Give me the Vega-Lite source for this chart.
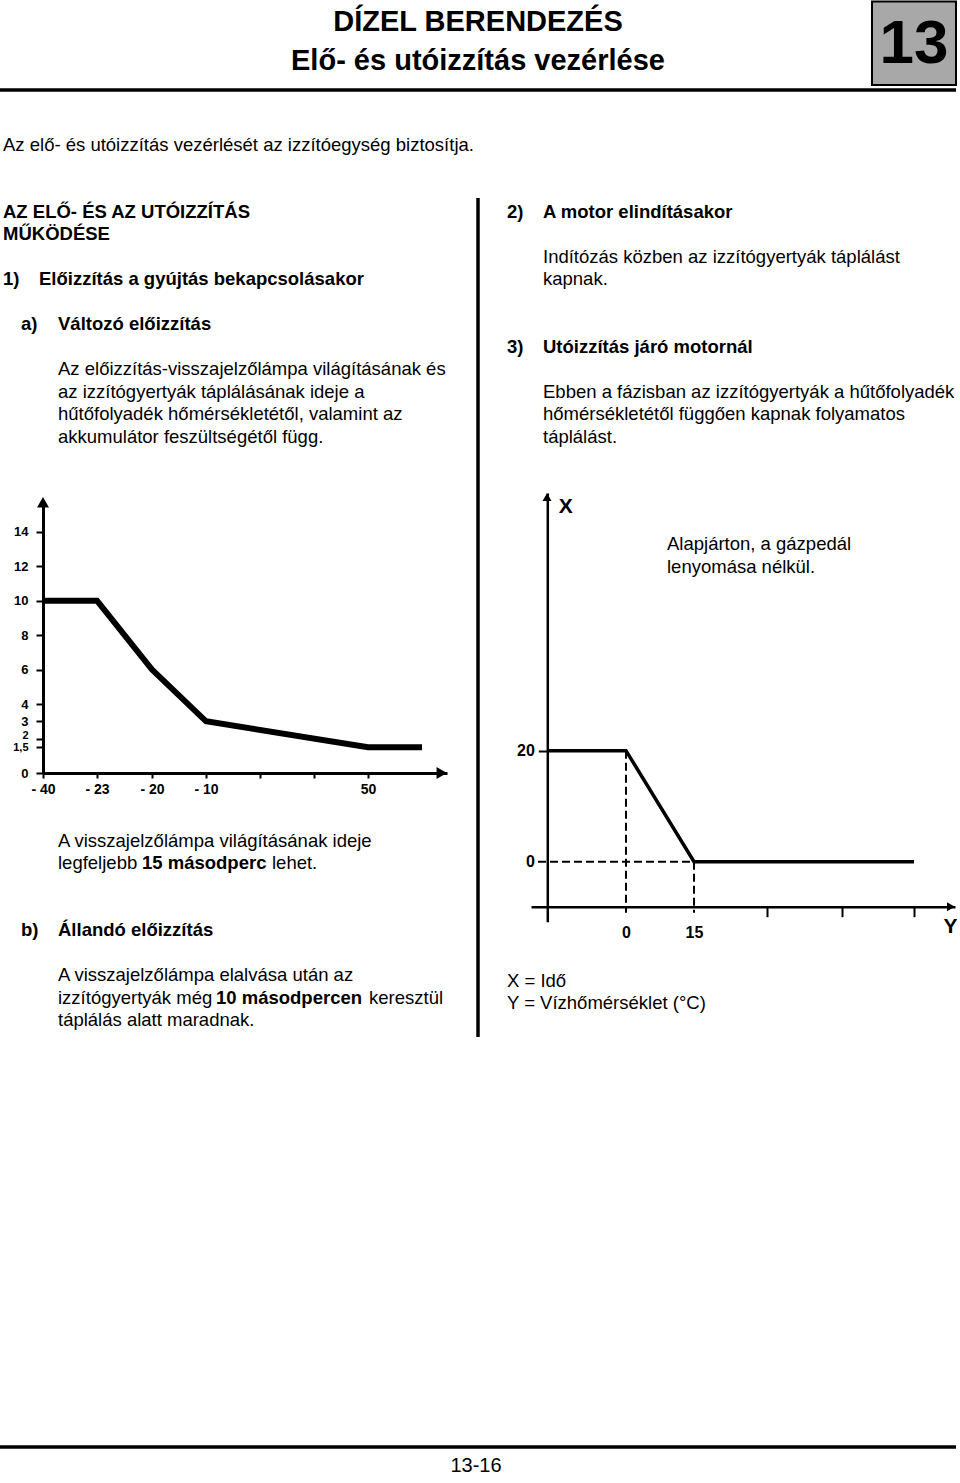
{
  "$schema": "https://vega.github.io/schema/vega-lite/v6.json",
  "width": 960,
  "height": 1483,
  "padding": 0,
  "autosize": {"type": "none"},
  "background": "white",
  "config": {
    "view": {"stroke": null},
    "font": "Liberation Sans",
    "axis": {"grid": false, "domainColor": "black", "tickColor": "black", "labelColor": "black", "titleColor": "black", "labelFont": "Liberation Sans", "titleFont": "Liberation Sans"}
  },
  "datasets": {
    "txt": [
      {"t": "DÍZEL BERENDEZÉS", "c": 9, "r": -8.46, "role": "title"},
      {"t": "Elő- és utóizzítás vezérlése", "c": 9, "r": -6.73, "role": "title"},
      {"t": "13", "c": 16, "r": -7.48, "role": "chapter"},
      {"t": "Az elő- és utóizzítás vezérlését az izzítóegység biztosítja.", "c": 1, "r": -3, "role": "body"},
      {"t": "AZ ELŐ- ÉS AZ UTÓIZZÍTÁS", "c": 1, "r": 0, "role": "heading"},
      {"t": "MŰKÖDÉSE", "c": 1, "r": 1, "role": "heading"},
      {"t": "1)", "c": 1, "r": 3, "role": "heading"},
      {"t": "Előizzítás a gyújtás bekapcsolásakor", "c": 3, "r": 3, "role": "heading"},
      {"t": "a)", "c": 2, "r": 5, "role": "heading"},
      {"t": "Változó előizzítás", "c": 4, "r": 5, "role": "heading"},
      {"t": "Az előizzítás-visszajelzőlámpa világításának és", "c": 4, "r": 7, "role": "body"},
      {"t": "az izzítógyertyák táplálásának ideje a", "c": 4, "r": 8, "role": "body"},
      {"t": "hűtőfolyadék hőmérsékletétől, valamint az", "c": 4, "r": 9, "role": "body"},
      {"t": "akkumulátor feszültségétől függ.", "c": 4, "r": 10, "role": "body"},
      {"t": "A visszajelzőlámpa világításának ideje", "c": 4, "r": 28, "role": "body"},
      {"t": "legfeljebb", "c": 4, "r": 29, "role": "body"},
      {"t": "15 másodperc", "c": 5, "r": 29, "role": "heading"},
      {"t": "lehet.", "c": 7, "r": 29, "role": "body"},
      {"t": "b)", "c": 2, "r": 32, "role": "heading"},
      {"t": "Állandó előizzítás", "c": 4, "r": 32, "role": "heading"},
      {"t": "A visszajelzőlámpa elalvása után az", "c": 4, "r": 34, "role": "body"},
      {"t": "izzítógyertyák még", "c": 4, "r": 35, "role": "body"},
      {"t": "10 másodpercen", "c": 6, "r": 35, "role": "heading"},
      {"t": "keresztül", "c": 8, "r": 35, "role": "body"},
      {"t": "táplálás alatt maradnak.", "c": 4, "r": 36, "role": "body"},
      {"t": "2)", "c": 12, "r": 0, "role": "heading"},
      {"t": "A motor elindításakor", "c": 13, "r": 0, "role": "heading"},
      {"t": "Indítózás közben az izzítógyertyák táplálást", "c": 13, "r": 2, "role": "body"},
      {"t": "kapnak.", "c": 13, "r": 3, "role": "body"},
      {"t": "3)", "c": 12, "r": 6, "role": "heading"},
      {"t": "Utóizzítás járó motornál", "c": 13, "r": 6, "role": "heading"},
      {"t": "Ebben a fázisban az izzítógyertyák a hűtőfolyadék", "c": 13, "r": 8, "role": "body"},
      {"t": "hőmérsékletétől függően kapnak folyamatos", "c": 13, "r": 9, "role": "body"},
      {"t": "táplálást.", "c": 13, "r": 10, "role": "body"},
      {"t": "Alapjárton, a gázpedál", "c": 14, "r": 14.79, "role": "body"},
      {"t": "lenyomása nélkül.", "c": 14, "r": 15.81, "role": "body"},
      {"t": "X = Idő", "c": 12, "r": 34.25, "role": "body"},
      {"t": "Y = Vízhőmérséklet (°C)", "c": 12, "r": 35.23, "role": "body"},
      {"t": "13-16", "c": 10, "r": 55.86, "role": "page"}
    ],
    "deco": [
      {"c1": 0, "c2": 17, "r1": -5.43, "r2": -5.43},
      {"c1": 0, "c2": 17, "r1": 55.01, "r2": 55.01},
      {"c1": 11, "c2": 11, "r1": -0.62, "r2": 36.75}
    ],
    "box": [{"c1": 15, "c2": 17, "r1": -9.38, "r2": -5.66}],
    "glowA": [
      {"temp": -40, "sec": 10},
      {"temp": -23, "sec": 10},
      {"temp": -20, "sec": 6},
      {"temp": -10, "sec": 3},
      {"temp": 50, "sec": 1.5},
      {"temp": 70, "sec": 1.5}
    ],
    "arrowAy": [{"temp": -40, "sec": 15.71}],
    "arrowAx": [{"temp": 77.9, "sec": 0}],
    "glowB": [
      {"temp": -17, "time": 20},
      {"temp": 0, "time": 20},
      {"temp": 15, "time": 0},
      {"temp": 60, "time": 0}
    ],
    "guideB": [
      {"a": 0, "b": 0, "lo": 20, "hi": -9.2},
      {"a": 15, "b": 15, "lo": 0, "hi": -9.2},
      {"a": -21.5, "b": 15, "lo": 0, "hi": 0}
    ],
    "arrowBy": [{"temp": -17, "time": 65.67}],
    "arrowBx": [{"temp": 68.1, "time": -8.1}]
  },
  "layer": [
    {
      "layer": [
        {
          "data": {"name": "deco"},
          "mark": {"type": "rule", "color": "black", "strokeWidth": 3.5},
          "encoding": {
            "x": {"field": "c1", "type": "quantitative", "scale": {"domain": [0,1,2,3,4,5,6,7,8,9,10,11,12,13,14,15,16,17], "range": [0,3,21,39,58,142,216,272,369,478,476,478,507,543,667,872,914,956], "nice": false, "zero": false}, "axis": null},
            "x2": {"field": "c2"},
            "y": {"field": "r1", "type": "quantitative", "scale": {"domain": [0, 56], "range": [212, 1469.2], "nice": false, "zero": false}, "axis": null},
            "y2": {"field": "r2"}
          }
        },
        {
          "data": {"name": "box"},
          "mark": {"type": "rect", "fill": "#a8a8a8", "stroke": "black", "strokeWidth": 2},
          "encoding": {
            "x": {"field": "c1", "type": "quantitative", "axis": null},
            "x2": {"field": "c2"},
            "y": {"field": "r1", "type": "quantitative", "axis": null},
            "y2": {"field": "r2"}
          }
        },
        {
          "data": {"name": "txt"},
          "transform": [{"filter": "datum.role == 'body'"}],
          "mark": {"type": "text", "align": "left", "baseline": "middle", "fontSize": 18.5, "color": "black"},
          "encoding": {
            "x": {"field": "c", "type": "quantitative", "axis": null},
            "y": {"field": "r", "type": "quantitative", "axis": null},
            "text": {"field": "t"}
          }
        },
        {
          "data": {"name": "txt"},
          "transform": [{"filter": "datum.role == 'heading'"}],
          "mark": {"type": "text", "align": "left", "baseline": "middle", "fontSize": 18.5, "fontWeight": "bold", "color": "black"},
          "encoding": {
            "x": {"field": "c", "type": "quantitative", "axis": null},
            "y": {"field": "r", "type": "quantitative", "axis": null},
            "text": {"field": "t"}
          }
        },
        {
          "data": {"name": "txt"},
          "transform": [{"filter": "datum.role == 'title'"}],
          "mark": {"type": "text", "align": "center", "baseline": "middle", "fontSize": 29, "fontWeight": "bold", "color": "black"},
          "encoding": {
            "x": {"field": "c", "type": "quantitative", "axis": null},
            "y": {"field": "r", "type": "quantitative", "axis": null},
            "text": {"field": "t"}
          }
        },
        {
          "data": {"name": "txt"},
          "transform": [{"filter": "datum.role == 'chapter'"}],
          "mark": {"type": "text", "align": "center", "baseline": "middle", "fontSize": 62, "fontWeight": "bold", "color": "black"},
          "encoding": {
            "x": {"field": "c", "type": "quantitative", "axis": null},
            "y": {"field": "r", "type": "quantitative", "axis": null},
            "text": {"field": "t"}
          }
        },
        {
          "data": {"name": "txt"},
          "transform": [{"filter": "datum.role == 'page'"}],
          "mark": {"type": "text", "align": "center", "baseline": "middle", "fontSize": 20, "color": "black"},
          "encoding": {
            "x": {"field": "c", "type": "quantitative", "axis": null},
            "y": {"field": "r", "type": "quantitative", "axis": null},
            "text": {"field": "t"}
          }
        }
      ]
    },
    {
      "layer": [
        {
          "data": {"name": "glowA"},
          "mark": {"type": "line", "color": "black", "strokeWidth": 6, "strokeJoin": "miter", "strokeCap": "butt"},
          "encoding": {
            "x": {
              "field": "temp", "type": "quantitative",
              "scale": {"domain": [-40,-23,-20,-10,10,30,50,70,80], "range": [43,97,152,206,260,314,368,422,447], "nice": false, "zero": false},
              "axis": {"orient": "bottom", "offset": -710, "values": [-40,-23,-20,-10,10,30,50], "format": "d", "labelExpr": "datum.value < 0 ? '- ' + (-datum.value) : (datum.value == 50 ? '50' : '')", "tickSize": 5, "tickWidth": 2, "domainWidth": 3, "labelFontSize": 14, "labelFontWeight": "bold", "labelPadding": 4, "labelFlush": false, "labelOverlap": false, "title": null}
            },
            "y": {
              "field": "sec", "type": "quantitative",
              "scale": {"domain": [0, 15.84], "range": [773, 500], "nice": false, "zero": false},
              "axis": {"orient": "left", "offset": -43, "values": [0,1.5,2,3,4,6,8,10,12,14], "format": ".1~f", "labelExpr": "replace(datum.label, '.', ',')", "tickSize": 7, "tickWidth": 2, "domainWidth": 3, "labelFontSize": {"condition": {"test": "datum.value == 2 || datum.value == 1.5", "value": 11}, "value": 13}, "labelOffset": {"condition": {"test": "datum.value == 2", "value": -3}, "value": 0}, "labelFontWeight": "bold", "labelPadding": 8, "labelFlush": false, "labelOverlap": false, "title": null}
            }
          }
        },
        {
          "data": {"name": "arrowAy"},
          "mark": {"type": "point", "shape": "triangle-up", "filled": true, "color": "black", "size": 144, "opacity": 1},
          "encoding": {
            "x": {"field": "temp", "type": "quantitative"},
            "y": {"field": "sec", "type": "quantitative"}
          }
        },
        {
          "data": {"name": "arrowAx"},
          "mark": {"type": "point", "shape": "triangle-right", "filled": true, "color": "black", "size": 144, "opacity": 1},
          "encoding": {
            "x": {"field": "temp", "type": "quantitative"},
            "y": {"field": "sec", "type": "quantitative"}
          }
        }
      ]
    },
    {
      "layer": [
        {
          "data": {"name": "guideB"},
          "mark": {"type": "rule", "color": "black", "strokeWidth": 2, "strokeDash": [8, 4]},
          "encoding": {
            "x": {
              "field": "a", "type": "quantitative",
              "scale": {"domain": [-25,-17,0,15,30,45,60,69], "range": [531,547,626,694,767,842,914,955], "nice": false, "zero": false},
              "axis": {"orient": "bottom", "offset": -576.3, "values": [0,15,30,45,60], "format": "d", "labelExpr": "datum.value <= 15 ? datum.label : ''", "tickSize": 10, "tickWidth": 2, "tickOpacity": {"condition": {"test": "datum.value <= 15", "value": 0}, "value": 1}, "domainWidth": 2.5, "labelFontSize": 16, "labelFontWeight": "bold", "labelPadding": 8, "labelFlush": false, "labelOverlap": false, "title": "Y", "titleFontSize": 21, "titleFontWeight": "bold", "titleAngle": 0, "titleAlign": "center", "titleBaseline": "middle", "titleX": 950, "titleY": 20}
            },
            "x2": {"field": "b"},
            "y": {
              "field": "lo", "type": "quantitative",
              "scale": {"domain": [-10.8, 66.4], "range": [921.7, 493], "nice": false, "zero": false},
              "axis": {"orient": "left", "offset": -547.3, "values": [0, 20], "format": "d", "tickSize": 9, "tickWidth": 2, "tickOpacity": {"condition": {"test": "datum.value == 0", "value": 0}, "value": 1}, "domainWidth": 2.5, "labelFontSize": 16, "labelFontWeight": "bold", "labelPadding": 4, "labelFlush": false, "labelOverlap": false, "title": "X", "titleFontSize": 21, "titleFontWeight": "bold", "titleAngle": 0, "titleAlign": "left", "titleBaseline": "middle", "titleX": 11, "titleY": 506}
            },
            "y2": {"field": "hi"}
          }
        },
        {
          "data": {"name": "glowB"},
          "mark": {"type": "line", "color": "black", "strokeWidth": 3.5, "strokeJoin": "miter"},
          "encoding": {
            "x": {"field": "temp", "type": "quantitative"},
            "y": {"field": "time", "type": "quantitative"}
          }
        },
        {
          "data": {"name": "arrowBy"},
          "mark": {"type": "point", "shape": "triangle-up", "filled": true, "color": "black", "size": 81, "opacity": 1},
          "encoding": {
            "x": {"field": "temp", "type": "quantitative"},
            "y": {"field": "time", "type": "quantitative"}
          }
        },
        {
          "data": {"name": "arrowBx"},
          "mark": {"type": "point", "shape": "triangle-right", "filled": true, "color": "black", "size": 81, "opacity": 1},
          "encoding": {
            "x": {"field": "temp", "type": "quantitative"},
            "y": {"field": "time", "type": "quantitative"}
          }
        }
      ]
    }
  ],
  "resolve": {"scale": {"x": "independent", "y": "independent"}}
}
